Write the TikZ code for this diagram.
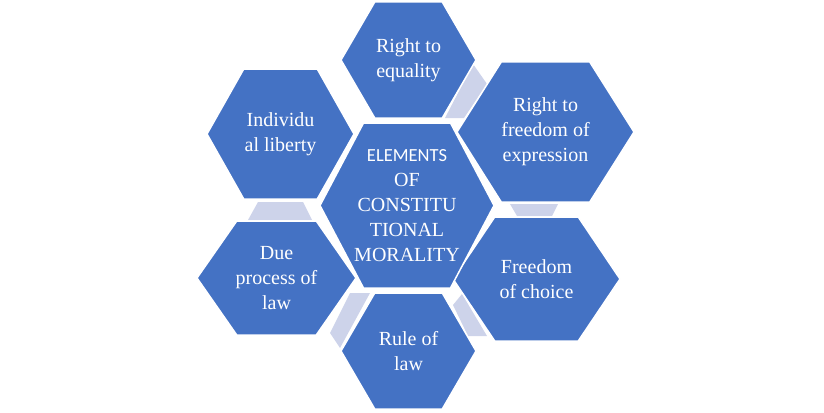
\documentclass[tikz,border=0pt]{standalone}
\usepackage{fontspec}
\setmainfont{Liberation Serif}
\newfontfamily\calfont{Carlito}
\definecolor{hexblue}{HTML}{4472C4}
\definecolor{linkc}{HTML}{CDD3EA}
\newcommand{\hexa}[6]{%
  \fill[hexblue,draw=white,line width=1.5pt] ({#2-#4},#3) -- ({#2-#4/2},{#3-#5}) -- ({#2+#4/2},{#3-#5}) -- ({#2+#4},#3) -- ({#2+#4/2},{#3+#5}) -- ({#2-#4/2},{#3+#5}) -- cycle;
  \node[txt] (#1) at (#2,#3) {#6};}
\begin{document}
\begin{tikzpicture}[x=1pt,y=-1pt,
  txt/.style={text=white,align=center,font=\fontsize{20}{25}\selectfont},
  link/.style={fill=linkc}]
\useasboundingbox (0,0) rectangle (824,412);
\fill[link] (445,118) -- (473,64) -- (487,84) -- (464,118) -- cycle;
\fill[link] (510,204) -- (558,204) -- (552,216) -- (517,216) -- cycle;
\fill[link] (453,305) -- (462,294) -- (487,336) -- (468,336) -- cycle;
\fill[link] (330,333) -- (350,293) -- (370,293) -- (340,348) -- cycle;
\fill[link] (248,220) -- (258,202) -- (303,202) -- (312,220) -- cycle;
\hexa{eq}{408.5}{60}{67.5}{58}{Right to\\equality}
\hexa{fe}{545.5}{132}{88.5}{70}{Right to\\freedom of\\expression}
\hexa{il}{280.5}{134}{73.5}{65}{Individu\\al liberty}
\hexa{dp}{276.5}{278}{79.5}{57}{Due\\process of\\law}
\hexa{rl}{408.5}{351}{67.5}{58}{Rule of\\law}
\hexa{fc}{536.5}{279}{83.5}{62}{Freedom\\of choice}
\hexa{c}{407}{205.5}{87}{82.5}{\calfont\fontsize{18.5}{27.5}\selectfont ELEMENTS\\OF\\CONSTITU\\TIONAL\\MORALITY}
\end{tikzpicture}
\end{document}
